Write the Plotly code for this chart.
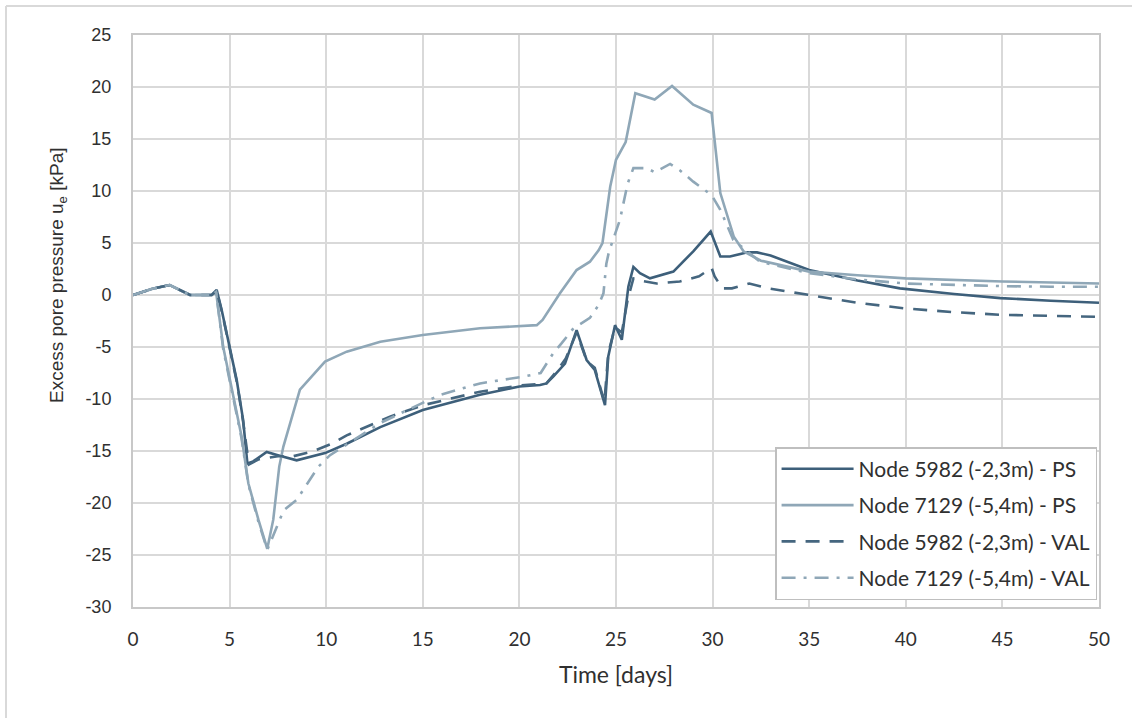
import plotly.graph_objects as go

# ---------------- data ----------------
t_5982_ps = [0, 1.0, 1.9, 2.95, 4.07, 4.33, 4.59, 5.02, 5.37, 5.7, 5.92, 6.22, 6.92, 7.5, 8.47,
             9.94, 11.06, 12.8, 15.0, 17.96, 20.0, 21.07, 21.4, 21.75, 22.36, 22.96, 23.48, 23.9,
             24.43, 24.6, 24.95, 25.3, 25.64, 25.9, 26.24, 26.76, 27.97, 29.0, 29.9, 30.4, 30.9,
             31.8, 32.3, 33.0, 35.0, 37.5, 39.7, 42.5, 44.9, 47.5, 50]
u_5982_ps = [0, 0.6, 0.96, 0.0, 0.0, 0.5, -1.44, -5.0, -8.2, -12.0, -16.2, -16.0, -15.1, -15.4, -15.9,
             -15.2, -14.3, -12.7, -11.06, -9.6, -8.8, -8.65, -8.5, -7.85, -6.6, -3.37, -6.25, -7.2,
             -10.6, -5.9, -2.9, -4.3, 0.8, 2.7, 2.1, 1.6, 2.25, 4.2, 6.1, 3.7, 3.7,
             4.1, 4.1, 3.8, 2.4, 1.4, 0.64, 0.1, -0.3, -0.55, -0.74]

t_7129_ps = [0, 1.0, 1.9, 2.95, 4.07, 4.3, 4.67, 5.19, 5.62, 5.97, 6.49, 6.95, 7.26, 7.57, 7.78,
             8.64, 9.94, 11.06, 12.8, 15.0, 17.96, 20.9, 21.2, 22.1, 22.96, 23.65, 24.1, 24.3, 24.7,
             25.0, 25.5, 26.0, 27.0, 27.9, 29.0, 29.95, 30.4, 31.1, 31.6, 32.5, 35, 37.5, 40, 45, 50]
u_7129_ps = [0, 0.6, 0.96, 0.0, 0.0, 0.3, -5.0, -9.8, -13.6, -18.1, -21.6, -24.4, -21.6, -16.5, -14.6,
             -9.1, -6.4, -5.45, -4.5, -3.85, -3.2, -2.9, -2.4, 0.16, 2.4, 3.2, 4.3, 5.0, 10.4,
             13.0, 14.7, 19.4, 18.8, 20.1, 18.3, 17.5, 9.8, 5.6, 4.2, 3.3, 2.25, 1.9, 1.6, 1.3, 1.1]

t_5982_val = [0, 1.0, 1.9, 2.95, 4.07, 4.33, 4.6, 5.0, 5.4, 5.7, 6.0, 6.5, 7.5, 8.3, 9.2, 10.3,
              11.06, 13.3, 15.0, 17.96, 20.0, 21.4, 21.9, 22.4, 22.96, 23.5, 23.9, 24.4, 24.6,
              24.95, 25.3, 25.6, 25.9, 26.2, 27.1, 28.3, 29.3, 29.95, 30.1, 30.5, 31.0, 31.9,
              33.0, 35.0, 37.5, 40.0, 42.5, 44.9, 47.5, 50]
u_5982_val = [0, 0.6, 0.96, 0.0, 0.0, 0.4, -1.6, -5.2, -8.6, -12.2, -16.3, -15.8, -15.5, -15.5, -15.1, -14.3,
              -13.5, -11.7, -10.6, -9.3, -8.7, -8.5, -7.4, -6.1, -3.6, -6.4, -7.0, -10.3, -5.6,
              -3.1, -3.6, -0.5, 1.6, 1.4, 1.1, 1.3, 1.8, 2.6, 1.8, 0.64, 0.64, 1.1,
              0.6, 0.0, -0.75, -1.3, -1.65, -1.9, -2.0, -2.1]

t_7129_val = [0, 1.0, 1.9, 2.95, 4.07, 4.3, 4.67, 5.19, 5.62, 5.97, 6.49, 6.95, 7.43, 7.8, 8.47,
              9.6, 10.2, 12.8, 14.5, 15.9, 17.96, 20.2, 21.1, 21.4, 21.75, 22.2, 22.8, 23.65,
              24.1, 24.35, 24.5, 24.64, 24.9, 25.2, 25.6, 25.9, 26.6, 27.0, 27.8, 28.3, 29.0,
              29.95, 30.4, 31.07, 32.45, 35, 37.5, 40, 43, 45, 47.5, 50]
u_7129_val = [0, 0.6, 0.96, 0.0, 0.0, 0.3, -5.2, -10.0, -13.8, -18.2, -21.8, -24.5, -22.3, -20.7, -19.7,
              -16.5, -15.4, -12.3, -10.8, -9.6, -8.5, -7.85, -7.5, -6.6, -5.6, -4.6, -3.2, -2.2,
              -0.96, 0.16, 3.0, 4.2, 5.6, 7.2, 10.7, 12.2, 12.2, 11.8, 12.6, 12.0, 10.9,
              9.6, 8.2, 5.3, 3.2, 2.1, 1.5, 1.1, 0.95, 0.85, 0.8, 0.8]

series_names = ["Node 5982 (-2,3m) - PS", "Node 7129 (-5,4m) - PS",
                "Node 5982 (-2,3m) - VAL", "Node 7129 (-5,4m) - VAL"]
x_ticks = [0, 5, 10, 15, 20, 25, 30, 35, 40, 45, 50]
y_ticks = [25, 20, 15, 10, 5, 0, -5, -10, -15, -20, -25, -30]
x_title = "Time [days]"
y_title = "Excess pore pressure u<sub>e</sub> [kPa]"

# ---------------- styles ----------------
DARK = "#3d5f7a"
LIGHT = "#8fa7b7"
styles = [
    dict(color=DARK, width=2.6, dash="solid"),
    dict(color=LIGHT, width=2.6, dash="solid"),
    dict(color="#45667f", width=2.6, dash="14px,10px"),
    dict(color=LIGHT, width=2.6, dash="14px,8px,3px,8px"),
]
data = [(t_5982_ps, u_5982_ps), (t_7129_ps, u_7129_ps),
        (t_5982_val, u_5982_val), (t_7129_val, u_7129_val)]

fig = go.Figure()
for i, ((tx, uy), name, st) in enumerate(zip(data, series_names, styles)):
    fig.add_trace(go.Scatter(x=tx, y=uy, mode="lines", name=name, line=st,
                             legendgroup=f"g{i}"))

GRID = "#d9d9d9"
TXT = "#303030"
SANS2 = "Lato, Inter, sans-serif"
fig.update_layout(
    width=1132, height=718,
    margin=dict(l=133, r=33, t=35, b=111),
    paper_bgcolor="white", plot_bgcolor="white",
    showlegend=True,
    legend=dict(
        x=0.998, y=0.012, xanchor="right", yanchor="bottom",
        bgcolor="white", bordercolor="#bfbfbf", borderwidth=1.5,
        font=dict(family=SANS2, size=21, color=TXT),
        traceorder="grouped", tracegroupgap=6,
        itemwidth=72, entrywidth=250,
    ),
    xaxis=dict(
        range=[0, 50], tickvals=x_ticks, ticktext=[str(v) for v in x_ticks],
        showgrid=True, gridcolor=GRID, gridwidth=2,
        showline=True, linecolor="#c8c8c8", linewidth=2, mirror=True,
        zeroline=False, ticks="", ticklabelstandoff=14,
        tickfont=dict(family=SANS2, size=19, color=TXT),
        title=dict(text=x_title, standoff=18,
                   font=dict(family=SANS2, size=23, color=TXT)),
    ),
    yaxis=dict(
        range=[-30, 25], tickvals=y_ticks, ticktext=[str(v) for v in y_ticks],
        showgrid=True, gridcolor=GRID, gridwidth=2,
        showline=True, linecolor="#c8c8c8", linewidth=2, mirror=True,
        zeroline=False, ticks="", ticklabelstandoff=16,
        tickfont=dict(family="Liberation Sans, Arial, sans-serif", size=18, color=TXT),
    ),
)

# y-axis title placed as in the reference (slightly above plot centre)
fig.add_annotation(text=y_title, xref="paper", yref="paper",
                   x=(58 - 133) / 966, y=(607 - 275) / 572,
                   xanchor="center", yanchor="middle", textangle=-90, showarrow=False,
                   font=dict(family="Liberation Sans, Arial, sans-serif", size=19, color=TXT))

# outer chart-area border (visible on left and top edges)
fig.add_shape(type="line", xref="paper", yref="paper",
              x0=(6 - 133) / 966, x1=(6 - 133) / 966, y0=(607 - 718) / 572, y1=(607 - 6) / 572,
              line=dict(color="#d9d9d9", width=2))
fig.add_shape(type="line", xref="paper", yref="paper",
              x0=(6 - 133) / 966, x1=(1132 - 133) / 966, y0=(607 - 6) / 572, y1=(607 - 6) / 572,
              line=dict(color="#d9d9d9", width=2))

fig.write_html("out.html")
